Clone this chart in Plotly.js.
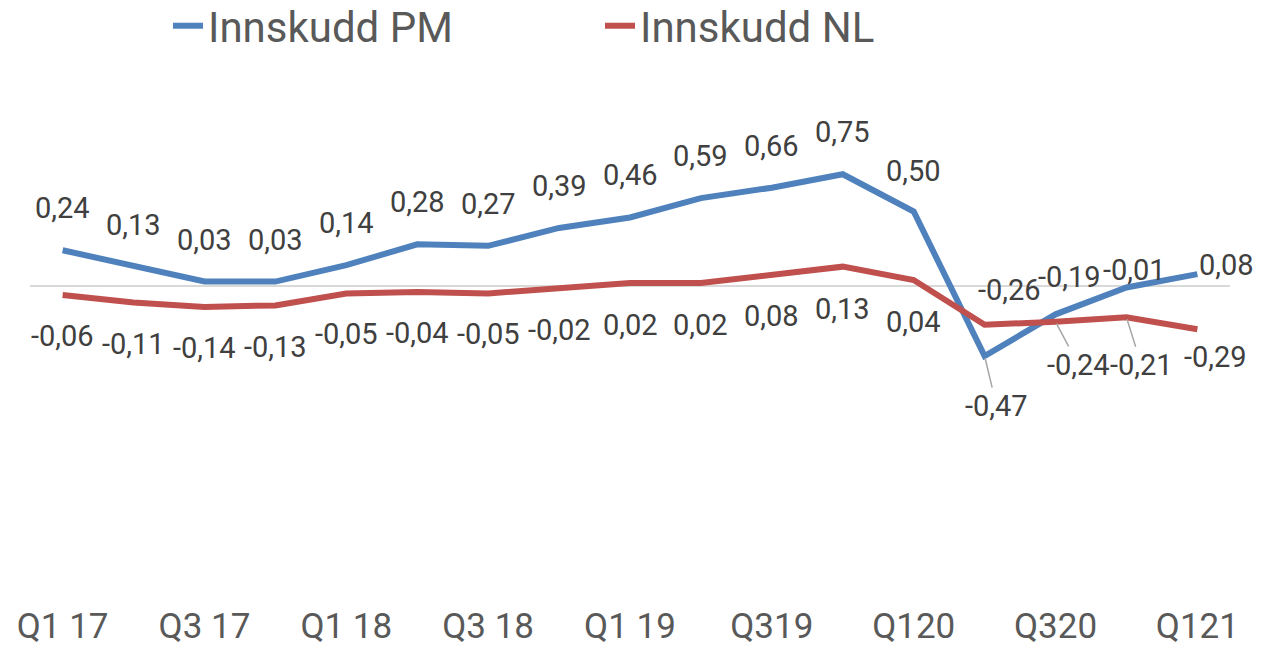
<!DOCTYPE html>
<html>
<head>
<meta charset="utf-8">
<script src="https://cdn.plot.ly/plotly-3.0.1.min.js"></script>
<style>html,body{margin:0;padding:0;background:#fff;}#chart{width:1261px;height:650px;}</style>
</head>
<body>
<div id="chart"></div>
<script>
// ---- data ----
const quarters = ["Q1 17","Q2 17","Q3 17","Q4 17","Q1 18","Q2 18","Q3 18","Q4 18","Q1 19","Q2 19","Q319","Q419","Q120","Q220","Q320","Q420","Q121"];
const tickLabels = ["Q1 17","Q3 17","Q1 18","Q3 18","Q1 19","Q319","Q120","Q320","Q121"];
const seriesNames = ["Innskudd PM","Innskudd NL"];
const innskuddPM = [0.24,0.13,0.03,0.03,0.14,0.28,0.27,0.39,0.46,0.59,0.66,0.75,0.50,-0.47,-0.19,-0.01,0.08];
const innskuddNL = [-0.06,-0.11,-0.14,-0.13,-0.05,-0.04,-0.05,-0.02,0.02,0.02,0.08,0.13,0.04,-0.26,-0.24,-0.21,-0.29];

// ---- label placement (pixels: [dx, dy, leader]) ----
const pmLabelPos = [[0,-42,0],[0,-42,0],[0,-42,0],[0,-42,0],[0,-42,0],[0,-42,0],[0,-42,0],[0,-42,0],[0,-42,0],[0,-42,0],[0,-42,0],[0,-42,0],[0,-41,0],[12,50,1],[14,-37,0],[8,-18,0],[29,-9,0]];
const nlLabelPos = [[0,41,0],[0,42,0],[0,41,0],[0,42,0],[0,41,0],[0,41,0],[0,41,0],[0,41,0],[0,42,0],[0,42,0],[0,42,0],[0,42,0],[0,42,0],[25,-35,0],[23,43,1],[15,48,1],[18,28,0]];

const colors = ["#4F81BD","#C0504D"];
const fontFam = "Roboto, 'Open Sans', sans-serif";

function fmt(v){ return v.toFixed(2).replace('.', ','); }

const traces = [innskuddPM, innskuddNL].map((vals,i)=>({
  x: quarters, y: vals, type:'scatter', mode:'lines', name: seriesNames[i],
  line:{color: colors[i], width:6}, hoverinfo:'skip'
}));

const annotations = [];
function addLabels(vals, pos){
  vals.forEach((v,i)=>{
    const p = pos[i];
    const a = {x: quarters[i], y: v, xref:'x', yref:'y', text: fmt(v),
      font:{family: fontFam, size:29, color:'#404040'}};
    if (p[2]) {
      Object.assign(a, {showarrow:true, ax:p[0], ay:p[1], arrowhead:0, arrowwidth:1.5, arrowcolor:'#A6A6A6', standoff:2});
    } else {
      Object.assign(a, {showarrow:false, xshift:p[0], yshift:-p[1]});
    }
    annotations.push(a);
  });
}
addLabels(innskuddPM, pmLabelPos);
addLabels(innskuddNL, nlLabelPos);

const layout = {
  width:1261, height:650,
  margin:{l:30, r:31, t:80, b:60, autoexpand:false},
  paper_bgcolor:'#fff', plot_bgcolor:'#fff',
  showlegend:true,
  legend:{orientation:'h', x:0.115, xanchor:'left', y:1.106, yanchor:'middle',
    font:{family: fontFam, size:42, color:'#595959'},
    entrywidth:387, entrywidthmode:'pixels', bgcolor:'rgba(0,0,0,0)'},
  xaxis:{type:'category', range:[-0.46,16.46], tickvals: quarters.filter((q,i)=>i%2===0), ticktext: tickLabels,
    showgrid:false, zeroline:false, showline:false, ticks:'', ticklabelstandoff:12,
    tickfont:{family: fontFam, size:35, color:'#595959'}},
  yaxis:{range:[-2.04,1.3826], showgrid:false, zeroline:true, zerolinecolor:'#D9D9D9', zerolinewidth:2,
    showticklabels:false, ticks:'', showline:false},
  annotations: annotations
};

Plotly.newPlot('chart', traces, layout, {displayModeBar:false, staticPlot:true});
</script>
</body>
</html>
